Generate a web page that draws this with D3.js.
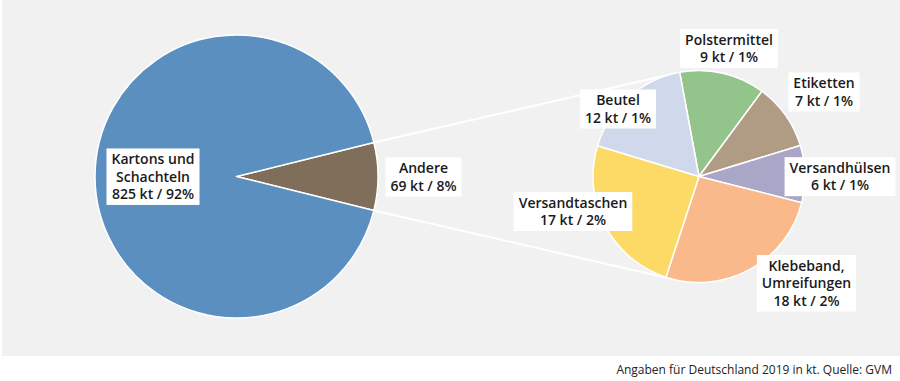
<!DOCTYPE html>
<html>
<head>
<meta charset="utf-8">
<script src="https://cdn.jsdelivr.net/npm/d3@7"></script>
<style>
  html, body { margin: 0; padding: 0; background: #ffffff; }
  svg { display: block; }
</style>
</head>
<body>
<svg id="chart" width="900" height="381"></svg>
<script>
// ---- data ----
const mainCategories = ["Andere", "Kartons und Schachteln"];
const mainValues = [69, 825];
const mainPercents = [8, 92];

const subCategories = ["Polstermittel", "Etiketten", "Versandhülsen", "Klebeband, Umreifungen", "Versandtaschen", "Beutel"];
const subValues = [9, 7, 6, 18, 17, 12];
const subPercents = [1, 1, 1, 2, 2, 1];

const sourceNote = "Angaben für Deutschland 2019 in kt. Quelle: GVM";

// ---- styles / layout ----
const mainColors = ["#7e6e5a", "#5a8fc0"];
const subColors = ["#93c48b", "#b09c85", "#a9a6c8", "#f9b98a", "#fdd966", "#d0d9ec"];

const mainLabelLines = [["Andere"], ["Kartons und", "Schachteln"]];
const subLabelLines = [["Polstermittel"], ["Etiketten"], ["Versandhülsen"], ["Klebeband,", "Umreifungen"], ["Versandtaschen"], ["Beutel"]];
const mainLabelPos = [[423.5, 177], [153, 176.7]];
const subLabelPos = [[729, 48.5], [824, 92], [840, 176.7], [806.5, 283.3], [573, 211.5], [618, 109]];

const svg = d3.select("#chart");
const W = 900, H = 381;

svg.append("rect").attr("x", 2).attr("y", 0).attr("width", W - 2).attr("height", 356).attr("fill", "#f1f1f1");

const mainC = [236.5, 176.5], mainR = 141.5;
const subC = [699, 176.5], subR = 106;

const total = d3.sum(mainValues);
const otherAngle = 2 * Math.PI * mainValues[0] / total;
const mainStart = Math.PI / 2 - otherAngle / 2;

const mainPie = d3.pie().sort(null).value(d => d)
  .startAngle(mainStart).endAngle(mainStart + 2 * Math.PI);
const mainArcs = mainPie(mainValues);
const mainArc = d3.arc().innerRadius(0).outerRadius(mainR);

const subStart = -10.5 * Math.PI / 180;
const subPie = d3.pie().sort(null).value(d => d)
  .startAngle(subStart).endAngle(subStart + 2 * Math.PI);
const subArcs = subPie(subValues);
const subArc = d3.arc().innerRadius(0).outerRadius(subR);

// connector lines (tangents from split slice edges to second pie)
function pt(c, r, a) { return [c[0] + r * Math.sin(a), c[1] - r * Math.cos(a)]; }
function tangent(P, C, r, upper) {
  const dx = C[0] - P[0], dy = C[1] - P[1];
  const d = Math.hypot(dx, dy);
  const base = Math.atan2(dy, dx);
  const off = Math.asin(r / d);
  const ang = upper ? base - off : base + off;
  const len = Math.sqrt(d * d - r * r);
  return [P[0] + len * Math.cos(ang), P[1] + len * Math.sin(ang)];
}
const pTop = pt(mainC, mainR, mainArcs[0].startAngle);
const pBot = pt(mainC, mainR, mainArcs[0].endAngle);
const tTop = tangent(pTop, subC, subR, true);
const tBot = tangent(pBot, subC, subR, false);
svg.append("line").attr("x1", pTop[0]).attr("y1", pTop[1]).attr("x2", tTop[0]).attr("y2", tTop[1])
  .attr("stroke", "#ffffff").attr("stroke-width", 2);
svg.append("line").attr("x1", pBot[0]).attr("y1", pBot[1]).attr("x2", tBot[0]).attr("y2", tBot[1])
  .attr("stroke", "#ffffff").attr("stroke-width", 2);

svg.append("g").attr("transform", `translate(${mainC[0]},${mainC[1]})`)
  .selectAll("path").data(mainArcs).join("path")
  .attr("d", mainArc).attr("fill", (d, i) => mainColors[i])
  .attr("stroke", "#ffffff").attr("stroke-width", 1.5).attr("stroke-linejoin", "round");

svg.append("g").attr("transform", `translate(${subC[0]},${subC[1]})`)
  .selectAll("path").data(subArcs).join("path")
  .attr("d", subArc).attr("fill", (d, i) => subColors[i])
  .attr("stroke", "#ffffff").attr("stroke-width", 1.5).attr("stroke-linejoin", "round");

// labels
const lineH = 17.5;
function label(lines, pos) {
  const g = svg.append("g");
  const rect = g.append("rect").attr("fill", "#ffffff");
  const n = lines.length;
  const t = g.append("text")
    .attr("font-family", "'Open Sans', sans-serif").attr("font-weight", 600)
    .attr("font-size", 14).attr("fill", "#1a1a1a").attr("text-anchor", "middle");
  lines.forEach((s, i) => {
    t.append("tspan").attr("x", pos[0]).attr("y", pos[1] - (n - 1) * lineH / 2 + 5 + i * lineH).text(s);
  });
  const bb = t.node().getBBox();
  const w = bb.width + 10, h = n * lineH + 4;
  rect.attr("x", pos[0] - w / 2).attr("y", pos[1] - h / 2).attr("width", w).attr("height", h);
}
mainCategories.forEach((c, i) => {
  label([...mainLabelLines[i], `${mainValues[i]} kt / ${mainPercents[i]}%`], mainLabelPos[i]);
});
subCategories.forEach((c, i) => {
  label([...subLabelLines[i], `${subValues[i]} kt / ${subPercents[i]}%`], subLabelPos[i]);
});

svg.append("text").attr("x", 892).attr("y", 373.5).attr("text-anchor", "end")
  .attr("font-family", "'Open Sans', sans-serif").attr("font-size", 12).attr("fill", "#222222")
  .text(sourceNote);
</script>
</body>
</html>
